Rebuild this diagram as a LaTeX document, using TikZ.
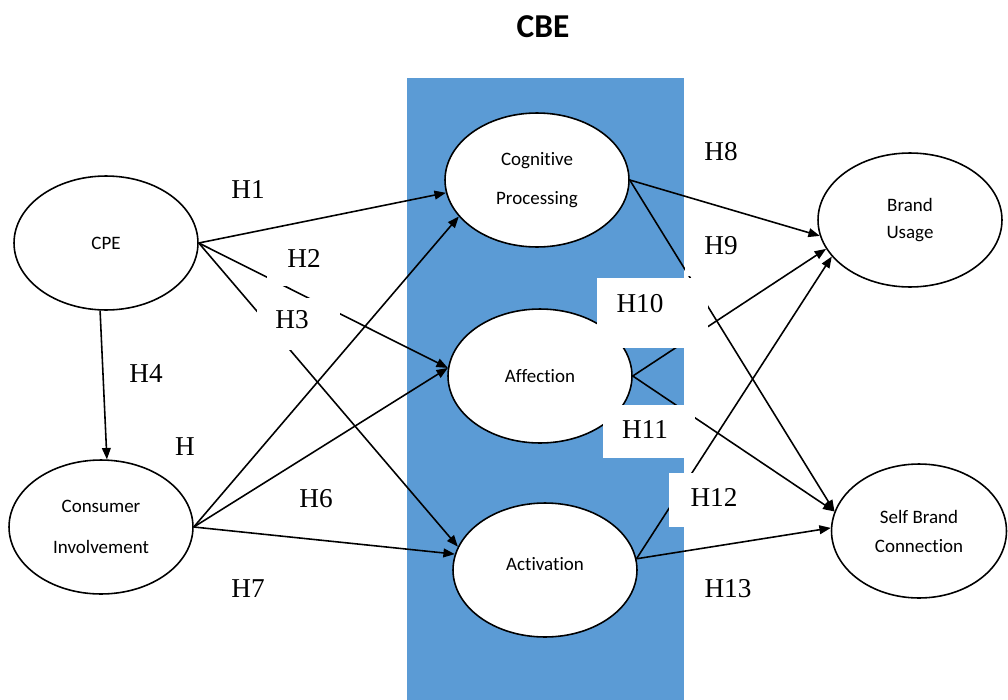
\documentclass[tikz,border=0pt]{standalone}
\usepackage{fontspec}
\setmainfont{Liberation Serif}
\newfontfamily\calibrifont[Ligatures=NoCommon]{Carlito}
\usetikzlibrary{shapes.geometric,arrows.meta}
\definecolor{cbeblue}{RGB}{91,155,213}

\begin{document}
\begin{tikzpicture}[x=0.02cm,y=-0.02cm,
        construct/.style={ellipse,draw,fill=white,line width=0.9pt,minimum width=3.68cm,minimum height=2.68cm,inner sep=0pt,align=center,font=\calibrifont\fontsize{10.8}{12}\selectfont},
        hyp/.style={-{Triangle[length=6.5pt,width=5pt]},line width=0.9pt},
        hlabel/.style={font=\fontsize{15.5}{18}\selectfont,inner sep=0pt},
        labelbox/.style={fill=white}]
        \useasboundingbox (0,0) rectangle (1008,700);
        \fill[cbeblue] (407,78) rectangle (684,700);
        \node[font=\calibrifont\bfseries\fontsize{19}{22}\selectfont] (cbe) at (543,27) {CBE};

        \node[construct] (cpe) at (106,243) {CPE};
        \node[construct] (inv) at (101,527) {Consumer\\[11pt]Involvement};
        \node[construct] (cog) at (537,180) {Cognitive\\[10pt]Processing};
        \node[construct] (aff) at (540,376) {Affection};
        \node[construct] (act) at (545,570) {\raisebox{7pt}{Activation}};
        \node[construct] (bu) at (910,220) {Brand\\[3pt]Usage};
        \node[construct,minimum width=3.5cm] (sbc) at (919,531) {Self Brand\\[4.5pt]Connection};

        \draw[hyp] (cpe.east) -- (cog.188);
        \draw[hyp] (cpe.east) -- (aff.175);
        \draw[hyp] (cpe.east) -- (act.165);
        \draw[hyp] (cpe.265) -- (inv.85);
        \draw[hyp] (inv.east) -- (cog.205);
        \draw[hyp] (inv.east) -- (aff.175);
        \draw[hyp] (inv.east) -- (act.170);
        \draw[hyp] (cog.east) -- (bu.190);
        \draw[hyp] (cog.east) -- (sbc.167);
        \draw[hyp] (aff.east) -- (bu.199);
        \draw[hyp] (aff.east) -- (sbc.167);
        \draw[hyp] (act.7) -- (bu.205);
        \draw[hyp] (act.7) -- (sbc.178);

        \fill[labelbox] (267,232) rectangle (335,286);
        \fill[labelbox] (257,298) rectangle (340,350);
        \fill[labelbox] (685,224) rectangle (768,276);
        \fill[labelbox] (597,278) rectangle (708,348);
        \fill[labelbox] (603,405) rectangle (695,458);
        \fill[labelbox] (669,473) rectangle (745,527);

        \node[hlabel] (h1) at (248,190) {H1};
        \node[hlabel] (h2) at (304,258) {H2};
        \node[hlabel] (h3) at (292,320) {H3};
        \node[hlabel] (h4) at (146,374) {H4};
        \node[hlabel] (h5) at (185,447) {H};
        \node[hlabel] (h6) at (316,499) {H6};
        \node[hlabel] (h7) at (248,589) {H7};
        \node[hlabel] (h8) at (721,152) {H8};
        \node[hlabel] (h9) at (721,246) {H9};
        \node[hlabel] (h10) at (640,304) {H10};
        \node[hlabel] (h11) at (645,430) {H11};
        \node[hlabel] (h12) at (714,497) {H12};
        \node[hlabel] (h13) at (728,589) {H13};
    \end{tikzpicture}
\end{document}
